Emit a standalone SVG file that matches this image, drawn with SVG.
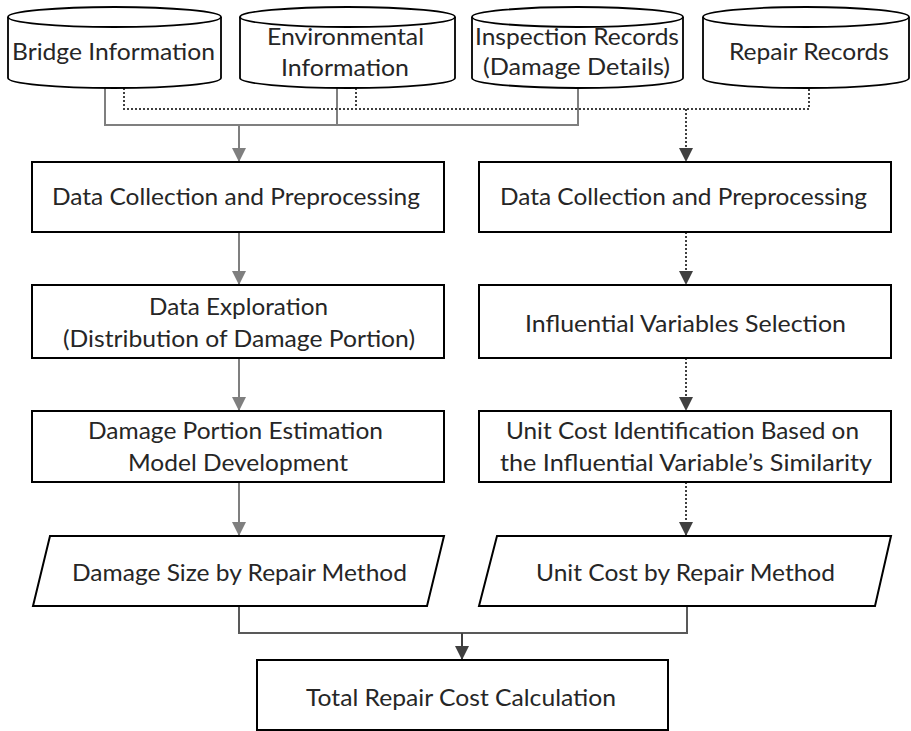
<svg xmlns="http://www.w3.org/2000/svg" width="911" height="731" viewBox="0 0 911 731">
<style>
.box{fill:#fff;stroke:#000;stroke-width:2}
.cyl{fill:#fff;stroke:#000;stroke-width:1.8}
.t{font-family:"Lato","Liberation Sans",Arial,sans-serif;font-size:23px;fill:#262626;text-anchor:middle}
.solid{fill:none;stroke:#7f7f7f;stroke-width:2}
.dot{fill:none;stroke:#404040;stroke-width:2;stroke-dasharray:2 2}
.merge{fill:none;stroke:#595959;stroke-width:2}
.dark{fill:none;stroke:#404040;stroke-width:2}
</style>
<defs>
<marker id="ag" viewBox="0 0 14 14" refX="14" refY="7" markerWidth="14" markerHeight="14" orient="auto" markerUnits="userSpaceOnUse"><path d="M0,0 L14,7 L0,14 z" fill="#7f7f7f"/></marker>
<marker id="ad" viewBox="0 0 14 14" refX="14" refY="7" markerWidth="14" markerHeight="14" orient="auto" markerUnits="userSpaceOnUse"><path d="M0,0 L14,7 L0,14 z" fill="#404040"/></marker>
</defs>
<rect width="911" height="731" fill="#fff"/>

<g id="connectors">
<path class="solid" d="M105,88 V125 H578 V88 M337,88 V125"/>
<path class="dot" d="M124,88 V109 H809 V88 M356,88 V109"/>
<path class="solid" d="M239,125 V162" marker-end="url(#ag)"/>
<path class="dot" d="M686,109 V162" marker-end="url(#ad)"/>
<path class="solid" d="M239,232 V285" marker-end="url(#ag)"/>
<path class="solid" d="M239,358 V411" marker-end="url(#ag)"/>
<path class="solid" d="M239,482 V536" marker-end="url(#ag)"/>
<path class="dot" d="M686,232 V285" marker-end="url(#ad)"/>
<path class="dot" d="M686,358 V411" marker-end="url(#ad)"/>
<path class="dot" d="M686,482 V536" marker-end="url(#ad)"/>
<path class="merge" d="M239,606 V633 H687 V606"/>
<path class="dark" d="M462,633 V660" marker-end="url(#ad)"/>
</g>

<g id="bridge-info">
<path class="cyl" d="M8,17 V78 A106.5,10 0 0 0 221,78 V17"/>
<ellipse class="cyl" cx="114.5" cy="17" rx="106.5" ry="10"/>
<text class="t" x="113.5" y="60" textLength="203" lengthAdjust="spacingAndGlyphs">Bridge Information</text>
</g>
<g id="env-info">
<path class="cyl" d="M240,17 V78 A107.5,10 0 0 0 455,78 V17"/>
<ellipse class="cyl" cx="347.5" cy="17" rx="107.5" ry="10"/>
<text class="t" x="345.5" y="45" textLength="157" lengthAdjust="spacingAndGlyphs">Environmental</text>
<text class="t" x="345" y="76" textLength="128" lengthAdjust="spacingAndGlyphs">Information</text>
</g>
<g id="inspection">
<path class="cyl" d="M472,17 V78 A105.5,10 0 0 0 683,78 V17"/>
<ellipse class="cyl" cx="577.5" cy="17" rx="105.5" ry="10"/>
<text class="t" x="577" y="45" textLength="204" lengthAdjust="spacingAndGlyphs">Inspection Records</text>
<text class="t" x="576.5" y="75" textLength="187" lengthAdjust="spacingAndGlyphs">(Damage Details)</text>
</g>
<g id="repair-records">
<path class="cyl" d="M703,17 V78 A103,10 0 0 0 909,78 V17"/>
<ellipse class="cyl" cx="806" cy="17" rx="103" ry="10"/>
<text class="t" x="809" y="60" textLength="160" lengthAdjust="spacingAndGlyphs">Repair Records</text>
</g>

<g id="l1">
<rect class="box" x="32" y="162" width="412" height="70"/>
<text class="t" x="236" y="205" textLength="368" lengthAdjust="spacingAndGlyphs">Data Collection and Preprocessing</text>
</g>
<g id="r1">
<rect class="box" x="479" y="162" width="412" height="70"/>
<text class="t" x="683.5" y="205" textLength="367" lengthAdjust="spacingAndGlyphs">Data Collection and Preprocessing</text>
</g>
<g id="l2">
<rect class="box" x="32" y="285" width="412" height="73"/>
<text class="t" x="238.5" y="315" textLength="179" lengthAdjust="spacingAndGlyphs">Data Exploration</text>
<text class="t" x="239" y="347" textLength="352" lengthAdjust="spacingAndGlyphs">(Distribution of Damage Portion)</text>
</g>
<g id="r2">
<rect class="box" x="479" y="285" width="412" height="73"/>
<text class="t" x="685.5" y="332" textLength="321" lengthAdjust="spacingAndGlyphs">Influential Variables Selection</text>
</g>
<g id="l3">
<rect class="box" x="32" y="411" width="412" height="71"/>
<text class="t" x="235.5" y="439" textLength="295" lengthAdjust="spacingAndGlyphs">Damage Portion Estimation</text>
<text class="t" x="238" y="471" textLength="220" lengthAdjust="spacingAndGlyphs">Model Development</text>
</g>
<g id="r3">
<rect class="box" x="479" y="411" width="412" height="71"/>
<text class="t" x="682.5" y="439" textLength="353" lengthAdjust="spacingAndGlyphs">Unit Cost Identification Based on</text>
<text class="t" x="686" y="471" textLength="372" lengthAdjust="spacingAndGlyphs">the Influential Variable’s Similarity</text>
</g>
<g id="l4">
<path class="box" d="M50,536 H444 L427,606 H33 Z"/>
<text class="t" x="239.5" y="581" textLength="335" lengthAdjust="spacingAndGlyphs">Damage Size by Repair Method</text>
</g>
<g id="r4">
<path class="box" d="M497,536 H891 L875,606 H479 Z"/>
<text class="t" x="685.5" y="581" textLength="299" lengthAdjust="spacingAndGlyphs">Unit Cost by Repair Method</text>
</g>
<g id="total">
<rect class="box" x="257" y="660" width="411" height="70"/>
<text class="t" x="461" y="706" textLength="310" lengthAdjust="spacingAndGlyphs">Total Repair Cost Calculation</text>
</g>
</svg>
